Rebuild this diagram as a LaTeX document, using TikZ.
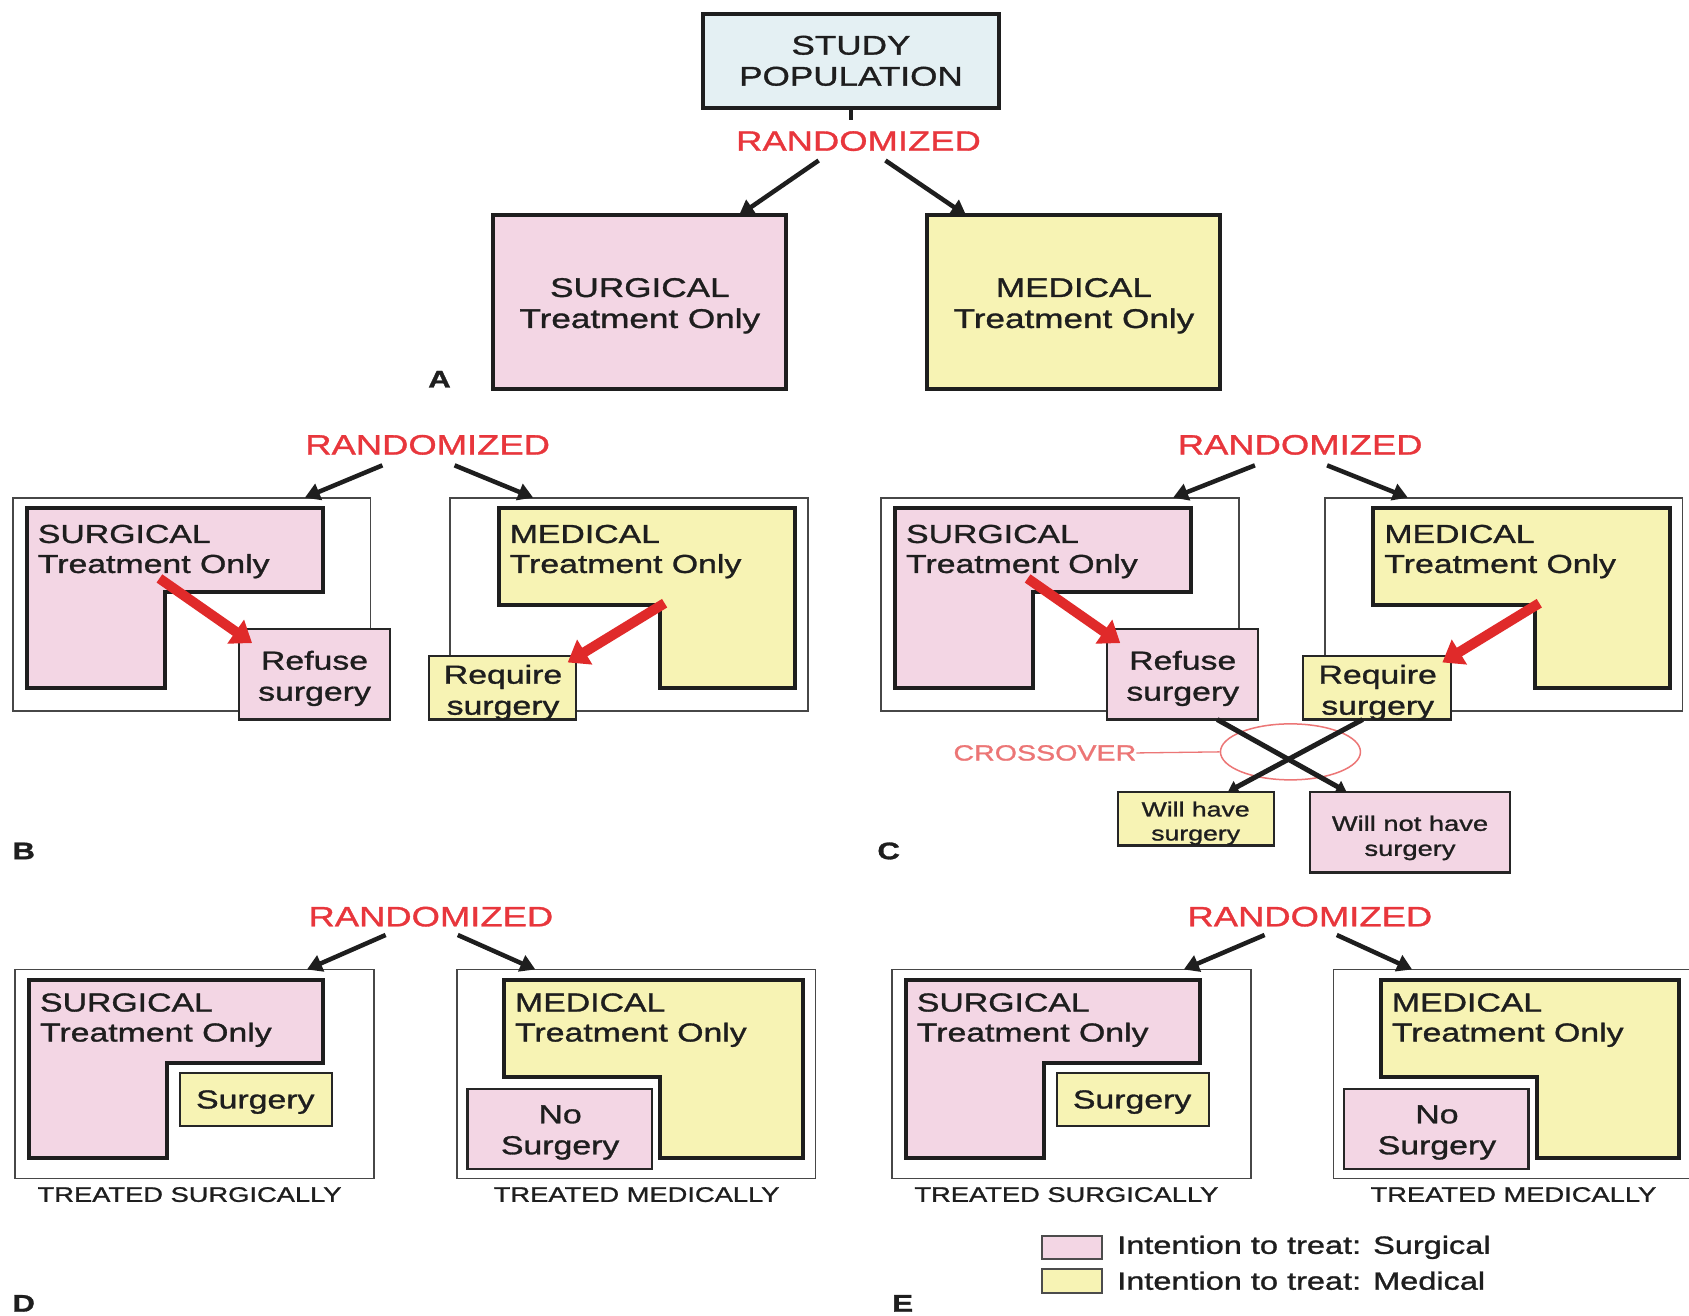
\documentclass[tikz,border=0pt]{standalone}
\usepackage{fontspec}
\setmainfont{Liberation Sans}[FakeStretch=1.3, FakeBold=1.2]
\usetikzlibrary{arrows.meta,fit,shapes.geometric}
\definecolor{pinkc}{HTML}{F3D6E4}
\definecolor{yellowc}{HTML}{F7F3B4}
\definecolor{bluec}{HTML}{E4F0F3}
\definecolor{randred}{HTML}{E8363C}
\definecolor{crossred}{HTML}{EC7676}
\definecolor{arrred}{HTML}{E02A2A}
\definecolor{inkc}{HTML}{1E1E1E}
\tikzset{
 lshape/.style={draw=inkc, line width=4pt, line join=miter},
 outerbox/.style={draw=black!72, line width=1.8pt, inner sep=0pt},
 bigbox/.style={draw=inkc, line width=4pt, inner sep=0pt},
 smallbox/.style={draw=black!85, line width=2.2pt, inner sep=0pt},
 btxt/.style={anchor=north, align=center, inner sep=0pt, text=inkc, font=\fontsize{26}{31}\selectfont},
 bigtxt/.style={btxt, font=\fontsize{27}{31}\selectfont},
 ltext/.style={anchor=north west, align=left, inner sep=0pt, text=inkc, font=\fontsize{26}{30}\selectfont},
 randtxt/.style={text=randred, font=\fontsize{28}{30}\selectfont, inner sep=0pt},
 blackarr/.style={draw=inkc, line width=4.5pt, -{Triangle[length=15pt,width=17pt]}},
 crossarr/.style={draw=inkc, line width=5pt, -{Triangle[length=10pt,width=13pt]}},
 redarr/.style={draw=arrred, line width=10pt, -{Triangle[length=20pt,width=28pt]}},
 treated/.style={font=\fontsize{21}{23}\selectfont, inner sep=0pt, text=inkc},
 panellbl/.style={font=\bfseries\fontsize{24}{26}\selectfont, inner sep=0pt, text=inkc},
 legtext/.style={font=\fontsize{25}{27}\selectfont, inner sep=0pt, anchor=west, text=inkc},
}
% #1 prefix, #2 left shift, #3 right shift, #4 randomized x
\newcommand{\panelBC}[4]{%
 \node[randtxt] (#1rand) at (#4,413) {RANDOMIZED};
 \coordinate (#1a1) at (#4-42,432);
 \coordinate (#1a2) at (#4+25,432);
 \begin{scope}[shift={(#2,0)}]
  \node[outerbox, fit={(12,462) (344,660)}] (#1outS) {};
  \draw[lshape, fill=pinkc] (25,472) -- (300,472) -- (300,550) -- (153,550) -- (153,639) -- (25,639) -- cycle;
  \node[ltext] (#1txtS) at (35,487) {SURGICAL\\Treatment Only};
  \node[smallbox, fill=pinkc, fit={(222,584) (362,668)}] (#1refuse) {};
  \node[btxt] (#1refusetxt) at (292,604) {Refuse\\surgery};
  \coordinate (#1e1) at (283,462);
  \coordinate (#1rs) at (148,537);
  \coordinate (#1re) at (234,597);
 \end{scope}
 \begin{scope}[shift={(#3,0)}]
  \node[outerbox, fit={(418,462) (750,660)}] (#1outM) {};
  \draw[lshape, fill=yellowc] (463,472) -- (738,472) -- (738,639) -- (613,639) -- (613,562) -- (463,562) -- cycle;
  \node[ltext] (#1txtM) at (473,487) {MEDICAL\\Treatment Only};
  \node[smallbox, fill=yellowc, fit={(398,609) (535,668)}] (#1require) {};
  \node[btxt] (#1requiretxt) at (467,617) {Require\\surgery};
  \coordinate (#1e2) at (495,462);
  \coordinate (#1ms) at (617,560);
  \coordinate (#1me) at (527,615);
 \end{scope}
 \draw[blackarr] (#1a1) -- (#1e1);
 \draw[blackarr] (#1a2) -- (#1e2);
 \draw[redarr] (#1rs) -- (#1re);
 \draw[redarr] (#1ms) -- (#1me);
}
% #1 prefix, #2 shift, #3 randomized x
\newcommand{\panelDE}[3]{%
 \node[randtxt] (#1rand) at (#3,851) {RANDOMIZED};
 \coordinate (#1a1) at (#3-42,868);
 \coordinate (#1a2) at (#3+25,868);
 \begin{scope}[shift={(#2,0)}]
  \node[outerbox, fit={(14,900) (347,1094)}] (#1outS) {};
  \draw[lshape, fill=pinkc] (27,910) -- (300,910) -- (300,987) -- (155,987) -- (155,1075) -- (27,1075) -- cycle;
  \node[ltext] (#1txtS) at (37,922) {SURGICAL\\Treatment Only};
  \node[smallbox, fill=yellowc, fit={(167,996) (308,1045)}] (#1surg) {};
  \node[btxt] (#1surgtxt) at (237,1012) {Surgery};
  \node[treated] (#1ts) at (176,1109) {TREATED SURGICALLY};
  \coordinate (#1e1) at (285,900);
  \node[outerbox, fit={(424,900) (757,1094)}] (#1outM) {};
  \draw[lshape, fill=yellowc] (468,910) -- (745,910) -- (745,1075) -- (613,1075) -- (613,1000) -- (468,1000) -- cycle;
  \node[ltext] (#1txtM) at (478,922) {MEDICAL\\Treatment Only};
  \node[smallbox, fill=pinkc, fit={(434,1011) (605,1085)}] (#1nosurg) {};
  \node[btxt] (#1nosurgtxt) at (520,1026) {No\\Surgery};
  \node[treated] (#1tm) at (591,1109) {TREATED MEDICALLY};
  \coordinate (#1e2) at (497,900);
 \end{scope}
 \draw[blackarr] (#1a1) -- (#1e1);
 \draw[blackarr] (#1a2) -- (#1e2);
}
\begin{document}
\begin{tikzpicture}[x=1.07717pt, y=-1.07717pt]
\useasboundingbox[fill=white] (0,0) rectangle (1568,1221);
% ---------- Panel A ----------
\node[bigbox, fill=bluec, fit={(653,13) (927,100)}] (study) {};
\node[bigtxt] (studytxt) at (790,33) {STUDY\\POPULATION};
\node[randtxt] (randA) at (797,131) {RANDOMIZED};
\coordinate (tickA) at (790,111);
\draw[draw=inkc, line width=3.5pt] (study.south) -- (tickA);
\node[bigbox, fill=pinkc, fit={(458,200) (730,361)}] (surgA) {};
\node[bigtxt] (surgAtxt) at (594,258) {SURGICAL\\Treatment Only};
\node[bigbox, fill=yellowc, fit={(861,200) (1133,361)}] (medA) {};
\node[bigtxt] (medAtxt) at (997,258) {MEDICAL\\Treatment Only};
\coordinate (aAs1) at (760,149);
\coordinate (aAs2) at (822,149);
\coordinate (aAe1) at (686,200);
\coordinate (aAe2) at (897,200);
\draw[blackarr] (aAs1) -- (aAe1);
\draw[blackarr] (aAs2) -- (aAe2);
\node[panellbl] (lblA) at (408,352) {A};
% ---------- Panel B ----------
\panelBC{B}{0}{0}{397}
\node[panellbl] (lblB) at (22,790) {B};
% ---------- Panel C ----------
\panelBC{C}{806}{812}{1207}
\node[smallbox, fill=yellowc, fit={(1038,735) (1183,785)}] (willhave) {};
\node[btxt, font=\fontsize{20.5}{24}\selectfont] (willhavetxt) at (1110,744) {Will have\\surgery};
\node[smallbox, fill=pinkc, fit={(1216,735) (1402,810)}] (willnot) {};
\node[btxt, font=\fontsize{21}{25}\selectfont] (willnottxt) at (1309,757) {Will not have\\surgery};
\node[draw=crossred, line width=1.5pt, ellipse, minimum width=140pt, minimum height=56pt, inner sep=0pt] (xell) at (1198,698) {};
\coordinate (x1s) at (1130,668);
\coordinate (x1e) at (1250,735);
\coordinate (x2s) at (1265,668);
\coordinate (x2e) at (1140,735);
\draw[crossarr] (x1s) -- (x1e);
\draw[crossarr] (x2s) -- (x2e);
\node[text=crossred, font=\fontsize{22}{24}\selectfont, inner sep=0pt, anchor=east] (xtxt) at (1055,699) {CROSSOVER};
\draw[crossred, line width=1.3pt] (xtxt.east) -- (xell.west);
\node[panellbl] (lblC) at (825,790) {C};
% ---------- Panel D ----------
\panelDE{D}{0}{400}
\node[panellbl] (lblD) at (22,1210) {D};
% ---------- Panel E ----------
\panelDE{E}{814}{1216}
\node[panellbl] (lblE) at (838,1210) {E};
% legend
\node[draw=black!70, line width=2pt, fill=pinkc, inner sep=0pt, fit={(967,1147) (1023,1169)}] (legS) {};
\node[legtext] (legStxt) at (1037,1158) {Intention to treat: Surgical};
\node[draw=black!70, line width=2pt, fill=yellowc, inner sep=0pt, fit={(967,1178) (1023,1200)}] (legM) {};
\node[legtext] (legMtxt) at (1037,1189) {Intention to treat: Medical};
\end{tikzpicture}
\end{document}
